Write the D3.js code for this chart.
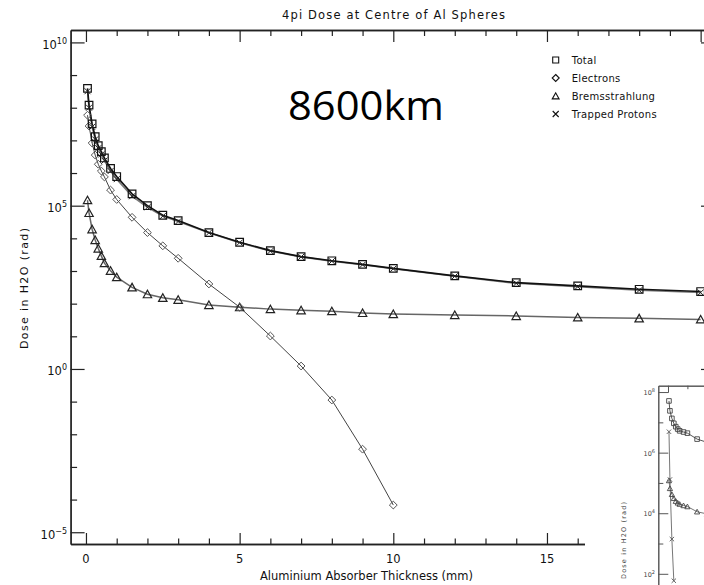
<!DOCTYPE html>
<html>
<head>
<meta charset="utf-8">
<script src="https://cdn.jsdelivr.net/npm/d3@7"></script>
<style>
  html, body { margin: 0; padding: 0; background: #fff; }
  svg { display: block; }
  text { font-family: "DejaVu Sans", sans-serif; fill: #111; }
</style>
</head>
<body>
<svg id="chart" width="704" height="585"></svg>
<script>
// ---- Dose-depth data, 8600 km orbit (rad in H2O vs mm of aluminium) ----
const depthMm = [0.05, 0.1, 0.2, 0.3, 0.4, 0.5, 0.6, 0.8, 1.0, 1.5, 2, 2.5, 3, 4, 5, 6, 7, 8, 9, 10, 12, 14, 16, 18, 20];
const totalDose = [3.9e8, 1.2e8, 3.2e7, 1.3e7, 6.9e6, 4.5e6, 2.9e6, 1.38e6, 7.8e5, 2.3e5, 1.0e5, 5.1e4, 3.5e4, 1.5e4, 7.6e3, 4.2e3, 2.75e3, 2.05e3, 1.6e3, 1.2e3, 710, 440, 350, 275, 235];
const protonDose = [3.2e8, 1.0e8, 2.6e7, 1.07e7, 5.75e6, 3.7e6, 2.4e6, 1.15e6, 6.5e5, 1.95e5, 8.9e4, 4.8e4, 3.3e4, 1.48e4, 7.4e3, 4.07e3, 2.7e3, 2.0e3, 1.55e3, 1.17e3, 690, 420, 330, 257, 219];
const electronDepthMm = [0.05, 0.1, 0.2, 0.3, 0.4, 0.5, 0.6, 0.8, 1.0, 1.5, 2, 2.5, 3, 4, 5, 6, 7, 8, 9, 10];
const electronDose = [5.9e7, 2.75e7, 8.3e6, 3.55e6, 1.86e6, 1.15e6, 7.6e5, 3.0e5, 1.55e5, 4.4e4, 1.5e4, 5.9e3, 2.45e3, 400, 78, 10.2, 1.23, 0.112, 3.5e-3, 6.8e-5];
const bremsDose = [1.48e5, 6.0e4, 1.9e4, 8.9e3, 4.9e3, 2.9e3, 1.74e3, 1.02e3, 650, 316, 195, 151, 132, 91, 78, 68, 63, 59, 52, 48, 45, 42, 38, 35.5, 33];

// ---- Second (small) dose-depth panel ----
const insetDepthMm = [0.05, 0.1, 0.2, 0.3, 0.4, 0.5, 0.6, 0.8, 1.0, 1.5, 2];
const insetTotalDose = [5.1e7, 2.4e7, 1.35e7, 9.3e6, 7.2e6, 6.0e6, 5.25e6, 4.8e6, 4.4e6, 2.8e6, 2.2e6];
const insetBremsDose = [1.2e5, 6.6e4, 4.2e4, 3.1e4, 2.5e4, 2.2e4, 2.0e4, 1.8e4, 1.66e4, 1.12e4, 9.5e3];
const insetProtonDepthMm = [0.05, 0.1, 0.2, 0.3];
const insetProtonDose = [4.9e6, 1.3e5, 1.4e3, 59];

// ---- Axis ticks and labels ----
const xMajorTicks = [0, 5, 10, 15, 20];
const xLabelTicks = [0, 5, 10, 15];
const xMinorTicks = d3.range(0, 21).filter(v => v % 5 !== 0);
const yLabelExponents = [-5, 0, 5, 10];
const yDecadeExponents = d3.range(-5, 11);
const insetLabelExponents = [2, 4, 6, 8];
const insetDecadeExponents = d3.range(1, 9);

const legendItems = ["Total", "Electrons", "Bremsstrahlung", "Trapped Protons"];

const svg = d3.select("#chart");

// ---- Symbol paths (IDL-style plot symbols) ----
const sym = {
  square: s => `M${-s},${-s}H${s}V${s}H${-s}Z`,
  diamond: r => `M0,${-r}L${r},0L0,${r}L${-r},0Z`,
  triangle: s => `M${-s},${s * 0.85}L0,${-s * 0.95}L${s},${s * 0.85}Z`,
  cross: s => `M${-s},${-s}L${s},${s}M${-s},${s}L${s},${-s}`
};

// ---- Main panel scales ----
const mainBox = { left: 70.6, right: 716, top: 30, bottom: 544 };
const x = d3.scaleLinear().domain([-0.5, 20.5]).range([mainBox.left, mainBox.right]);
const y = d3.scaleLog().domain([Math.pow(10, -5.36), Math.pow(10, 10.38)]).range([mainBox.bottom, mainBox.top]);

const main = svg.append("g");

// Series lines
const line = d3.line().x(d => x(d[0])).y(d => y(d[1]));
const zip = (a, b) => a.map((v, i) => [v, b[i]]);

main.append("path").datum(zip(depthMm, protonDose)).attr("d", line)
  .attr("fill", "none").attr("stroke", "#7a7a7a").attr("stroke-width", 1.6);
main.append("path").datum(zip(depthMm, totalDose)).attr("d", line)
  .attr("fill", "none").attr("stroke", "#111").attr("stroke-width", 1.6);
main.append("path").datum(zip(depthMm, bremsDose)).attr("d", line)
  .attr("fill", "none").attr("stroke", "#666").attr("stroke-width", 1.5);
main.append("path").datum(zip(electronDepthMm, electronDose)).attr("d", line)
  .attr("fill", "none").attr("stroke", "#444").attr("stroke-width", 1);

// Markers
function markers(g, data, pathFn, stroke, width) {
  g.append("g").selectAll("path").data(data).join("path")
    .attr("transform", d => `translate(${x(d[0])},${y(d[1])})`)
    .attr("d", pathFn)
    .attr("fill", "none").attr("stroke", stroke).attr("stroke-width", width);
}
markers(main, zip(depthMm, bremsDose), () => sym.triangle(4.2), "#222", 1.2);
markers(main, zip(electronDepthMm, electronDose), () => sym.diamond(3.9), "#555", 1);
markers(main, zip(depthMm, totalDose), () => sym.square(3.8), "#111", 1.2);
markers(main, zip(depthMm, protonDose), () => sym.cross(3), "#222", 1);

// Axes: ticks point inward on all four sides
const axisG = main.append("g").attr("stroke-width", 1.2);
function styleAxis(g) {
  g.select(".domain").attr("stroke", "#222").attr("stroke-width", 1.3);
  g.selectAll(".tick line").attr("stroke", "#222").attr("stroke-width", 1.2);
  g.selectAll(".tick text").remove();
}
// bottom
axisG.append("g").attr("transform", `translate(0,${mainBox.bottom})`)
  .call(d3.axisBottom(x).tickValues(xMajorTicks).tickSizeInner(-11).tickSizeOuter(0)).call(styleAxis);
axisG.append("g").attr("transform", `translate(0,${mainBox.bottom})`)
  .call(d3.axisBottom(x).tickValues(xMinorTicks).tickSizeInner(-5.5).tickSizeOuter(0)).call(styleAxis);
// top
axisG.append("g").attr("transform", `translate(0,${mainBox.top})`)
  .call(d3.axisTop(x).tickValues(xMajorTicks).tickSizeInner(-12).tickSizeOuter(0)).call(styleAxis);
axisG.append("g").attr("transform", `translate(0,${mainBox.top})`)
  .call(d3.axisTop(x).tickValues(xMinorTicks).tickSizeInner(-6).tickSizeOuter(0)).call(styleAxis);
// left
const yMajorVals = yLabelExponents.map(e => Math.pow(10, e));
const yMinorVals = yDecadeExponents.filter(e => e % 5 !== 0).map(e => Math.pow(10, e));
axisG.append("g").attr("transform", `translate(${mainBox.left},0)`)
  .call(d3.axisLeft(y).tickValues(yMajorVals).tickSizeInner(-14).tickSizeOuter(0)).call(styleAxis);
axisG.append("g").attr("transform", `translate(${mainBox.left},0)`)
  .call(d3.axisLeft(y).tickValues(yMinorVals).tickSizeInner(-6.5).tickSizeOuter(0)).call(styleAxis);
// right
axisG.append("g").attr("transform", `translate(${mainBox.right},0)`)
  .call(d3.axisRight(y).tickValues(yMajorVals).tickSizeInner(-15).tickSizeOuter(0)).call(styleAxis);
axisG.append("g").attr("transform", `translate(${mainBox.right},0)`)
  .call(d3.axisRight(y).tickValues(yMinorVals).tickSizeInner(-6.5).tickSizeOuter(0)).call(styleAxis);

// Tick labels
main.append("g").selectAll("text").data(xLabelTicks).join("text")
  .attr("x", d => x(d)).attr("y", mainBox.bottom + 19)
  .attr("text-anchor", "middle").attr("font-size", 11.5)
  .text(d => d);

const yLab = main.append("g").selectAll("text").data(yLabelExponents).join("text")
  .attr("x", 67).attr("y", d => y(Math.pow(10, d)) + 6.5)
  .attr("text-anchor", "end").attr("font-size", 11.5);
yLab.append("tspan").text("10");
yLab.append("tspan").attr("font-size", 8).attr("dy", -5)
  .text(d => d < 0 ? "\u2212" + Math.abs(d) : String(d));

// Titles
main.append("text").attr("x", 282).attr("y", 19)
  .attr("font-size", 11.5).attr("textLength", 223).attr("lengthAdjust", "spacing")
  .text("4pi Dose at Centre of Al Spheres");
main.append("text").attr("x", 260).attr("y", 580)
  .attr("font-size", 11.5).attr("textLength", 213).attr("lengthAdjust", "spacing")
  .text("Aluminium Absorber Thickness (mm)");
main.append("text").attr("transform", "translate(28,349) rotate(-90)")
  .attr("font-size", 11).attr("textLength", 121).attr("lengthAdjust", "spacing")
  .text("Dose in H2O (rad)");

// Orbit altitude caption
svg.append("text").attr("x", 288).attr("y", 120)
  .attr("font-size", 40)
  .attr("textLength", 156).attr("lengthAdjust", "spacingAndGlyphs")
  .style("font-family", "'Open Sans', sans-serif").style("fill", "#000")
  .text("8600km");

// Legend
const legendSyms = [sym.square(3), sym.diamond(3.5), sym.triangle(3.4), sym.cross(3)];
const lg = svg.append("g").attr("transform", "translate(555.7,60)");
legendItems.forEach((name, i) => {
  const row = lg.append("g").attr("transform", `translate(0,${i * 18})`);
  row.append("path").attr("d", legendSyms[i]).attr("fill", "none")
    .attr("stroke", "#111").attr("stroke-width", 1.1);
  row.append("text").attr("x", 16).attr("y", 3.5).attr("font-size", 10)
    .attr("letter-spacing", 0.3)
    .text(name);
});

// ---- Second panel (partly in view, lower right) ----
const ins = svg.append("g");
ins.append("rect").attr("x", 585).attr("y", 372).attr("width", 130).attr("height", 220).attr("fill", "#fff");

const insBox = { left: 658.3, top: 385.7 };
const xi = d3.scaleLinear().domain([-0.5, 20.5]).range([insBox.left, insBox.left + 21 * 19.4]);
const yi = d3.scaleLog().domain([10, Math.pow(10, 8.21)]).range([604.1, insBox.top]);
const linei = d3.line().x(d => xi(d[0])).y(d => yi(d[1]));

ins.append("path").datum(zip(insetProtonDepthMm, insetProtonDose)).attr("d", linei)
  .attr("fill", "none").attr("stroke", "#777").attr("stroke-width", 1);
ins.append("path").datum(zip(insetDepthMm, insetBremsDose)).attr("d", linei)
  .attr("fill", "none").attr("stroke", "#777").attr("stroke-width", 1);
ins.append("path").datum(zip(insetDepthMm, insetTotalDose)).attr("d", linei)
  .attr("fill", "none").attr("stroke", "#555").attr("stroke-width", 1);

function insMarkers(data, pathFn, stroke) {
  ins.append("g").selectAll("path").data(data).join("path")
    .attr("transform", d => `translate(${xi(d[0])},${yi(d[1])})`)
    .attr("d", pathFn).attr("fill", "none").attr("stroke", stroke).attr("stroke-width", 0.9);
}
insMarkers(zip(insetDepthMm, insetBremsDose), () => sym.triangle(2.6), "#444");
insMarkers(zip(insetDepthMm, insetTotalDose), () => sym.square(2.3), "#444");
insMarkers(zip(insetProtonDepthMm, insetProtonDose), () => sym.cross(2.2), "#555");

function styleInsAxis(g) {
  g.select(".domain").attr("stroke", "#555").attr("stroke-width", 1);
  g.selectAll(".tick line").attr("stroke", "#555").attr("stroke-width", 1);
  g.selectAll(".tick text").remove();
}
const insMajor = insetLabelExponents.map(e => Math.pow(10, e));
const insMinor = insetDecadeExponents.filter(e => e % 2 !== 0).map(e => Math.pow(10, e));
ins.append("g").attr("transform", `translate(${insBox.left},0)`)
  .call(d3.axisLeft(yi).tickValues(insMajor).tickSizeInner(-10).tickSizeOuter(0)).call(styleInsAxis);
ins.append("g").attr("transform", `translate(${insBox.left},0)`)
  .call(d3.axisLeft(yi).tickValues(insMinor).tickSizeInner(-5).tickSizeOuter(0)).call(styleInsAxis);
ins.append("g").attr("transform", `translate(0,${insBox.top})`)
  .call(d3.axisTop(xi).tickValues([0, 5]).tickSizeInner(-7).tickSizeOuter(0)).call(styleInsAxis);
ins.append("g").attr("transform", `translate(0,${insBox.top})`)
  .call(d3.axisTop(xi).tickValues([1, 2, 3, 4]).tickSizeInner(-3.5).tickSizeOuter(0)).call(styleInsAxis);

const insLab = ins.append("g").selectAll("text").data(insetLabelExponents).join("text")
  .attr("x", 655).attr("y", d => yi(Math.pow(10, d)) + 3)
  .attr("text-anchor", "end").attr("font-size", 6.5).style("fill", "#444");
insLab.append("tspan").text("10");
insLab.append("tspan").attr("font-size", 5).attr("dy", -3).text(d => d);

ins.append("text").attr("transform", "translate(626,579) rotate(-90)")
  .attr("font-size", 6.5).attr("textLength", 77).attr("lengthAdjust", "spacing")
  .style("fill", "#444").text("Dose in H2O (rad)");
</script>
</body>
</html>
